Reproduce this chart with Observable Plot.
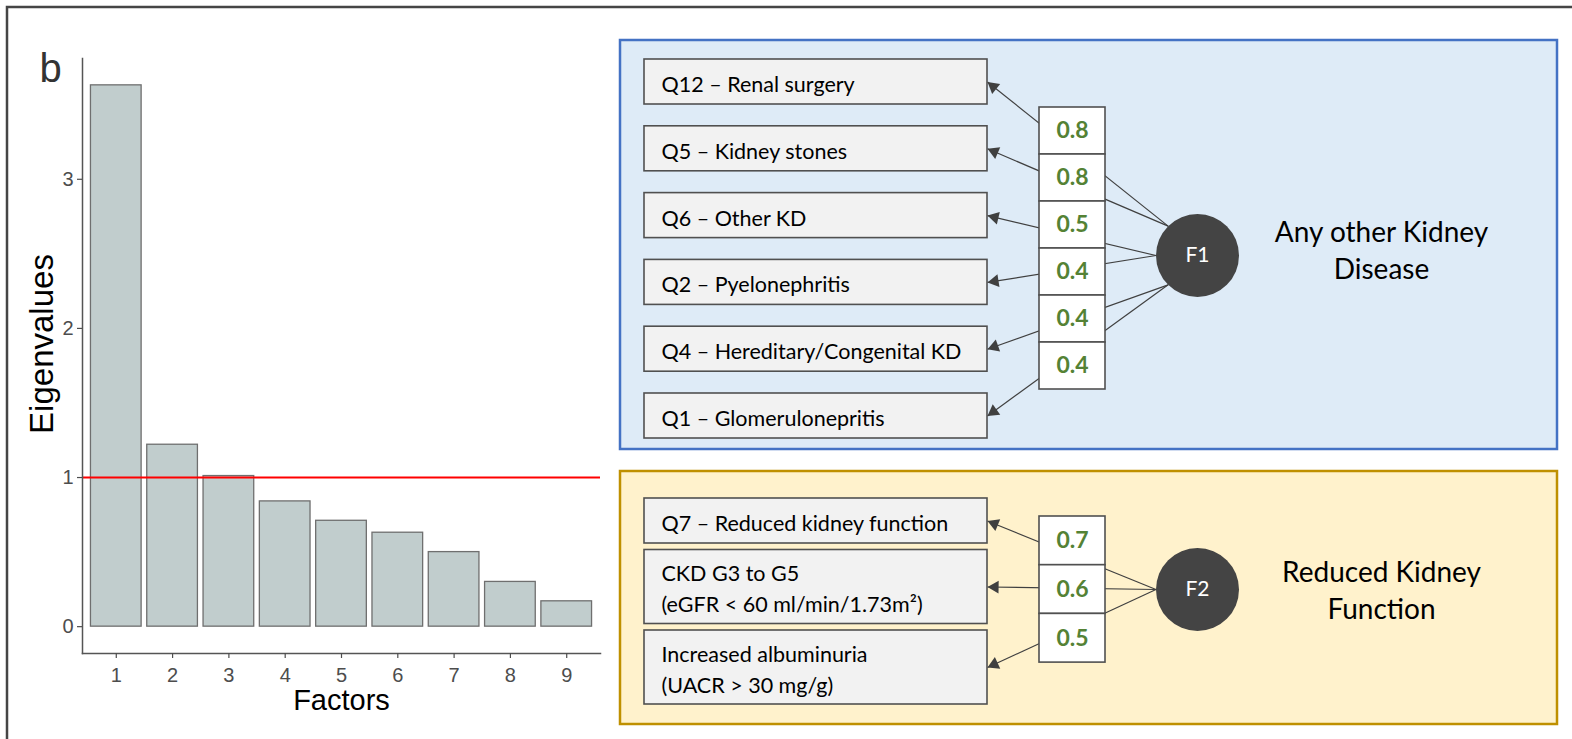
<!DOCTYPE html>
<html><head><meta charset="utf-8">
<script src="https://cdn.jsdelivr.net/npm/d3@7"></script>
<script src="https://cdn.jsdelivr.net/npm/@observablehq/plot@0.6"></script>
<style>
body{margin:0;background:#fff}
#wrap{position:relative;width:1572px;height:739px;overflow:hidden}
#wrap svg{position:absolute;left:0;top:0}
</style></head><body><div id="wrap"></div>
<script>
// ---------- data ----------
const factorNumbers = [1, 2, 3, 4, 5, 6, 7, 8, 9];
const eigenvalues = [3.63, 1.22, 1.01, 0.84, 0.71, 0.63, 0.50, 0.30, 0.17];
const eigenTicks = [0, 1, 2, 3];
const kaiserCutoff = 1;
const panelLabel = "b";

const items1 = ["Q12 – Renal surgery", "Q5 – Kidney stones", "Q6 – Other KD", "Q2 – Pyelonephritis", "Q4 – Hereditary/Congenital KD", "Q1 – Glomerulonepritis"];
const loadings1 = [0.8, 0.8, 0.5, 0.4, 0.4, 0.4];
const items2 = ["Q7 – Reduced kidney function", "CKD G3 to G5\n(eGFR < 60 ml/min/1.73m²)", "Increased albuminuria\n(UACR > 30 mg/g)"];
const loadings2 = [0.7, 0.6, 0.5];
const factorCodes = ["F1", "F2"];
const factorNames = ["Any other Kidney\nDisease", "Reduced Kidney\nFunction"];

// ---------- scree plot ----------
const screeData = factorNumbers.map((f, i) => ({factor: f, eigen: eigenvalues[i]}));
const sans = "'Liberation Sans', Arial, sans-serif";
const scree = Plot.plot({
  width: 620, height: 739,
  marginLeft: 82, marginRight: 20, marginTop: 58, marginBottom: 86,
  style: {background: "transparent", fontFamily: sans, overflow: "visible"},
  x: {type: "band", domain: factorNumbers, paddingInner: 0.1, paddingOuter: 0.15, round: false},
  y: {domain: [-0.18, 3.81]},
  marks: [
    Plot.barY(screeData, {x: "factor", y: "eigen", fill: "#c1cdcd", stroke: "#6f6f6f", strokeWidth: 1.3}),
    Plot.ruleY([kaiserCutoff], {stroke: "#ff0000", strokeWidth: 2}),
    Plot.frame({anchor: "left", stroke: "#555", strokeWidth: 1.5}),
    Plot.frame({anchor: "bottom", stroke: "#555", strokeWidth: 1.5}),
    Plot.axisY(eigenTicks, {tickSize: 5, tickPadding: 4, fontSize: 20, tickFormat: "d", label: null, color: "#4d4d4d", strokeWidth: 1.2}),
    Plot.axisX({tickSize: 5, tickPadding: 9, fontSize: 20, label: null, color: "#4d4d4d", strokeWidth: 1.2}),
    Plot.text(["Eigenvalues"], {frameAnchor: "left", textAnchor: "middle", lineAnchor: "middle", dx: -40, dy: -12, rotate: -90, fontSize: 33, fill: "#000"}),
    Plot.text(["Factors"], {frameAnchor: "bottom", textAnchor: "middle", lineAnchor: "middle", dy: 47, fontSize: 29, fill: "#000"})
  ]
});

// ---------- diagram layout ----------
const panels = [
  {items: items1, loadings: loadings1, code: factorCodes[0], name: factorNames[0],
   box: {x1: 620, x2: 1557, y1: 40, y2: 449}, fill: "#deebf7", stroke: "#4472c4",
   itemTop: 59, gap: 21.8, loadTop: 107, loadH: 47, cy: 255, titleY: 248,
   anchorAngle: i => Math.PI + (1 - Math.floor(i / 2)) * Math.PI / 4},
  {items: items2, loadings: loadings2, code: factorCodes[1], name: factorNames[1],
   box: {x1: 620, x2: 1557, y1: 471, y2: 724}, fill: "#fff2cc", stroke: "#bf9000",
   itemTop: 498, gap: 6.5, loadTop: 516, loadH: 48.7, cy: 589, titleY: 588,
   anchorAngle: i => Math.PI}
];
const G = {itemX1: 644, itemX2: 987, textPad: 17, lineH: 45, lineStep: 29, loadX1: 1039, loadX2: 1105, cx: 1197, r: 41.5, titleX: 1381, head: 3.7};

const bgRows = [], itemRows = [], loadRows = [], linkRows = [], headRows = [], circleRows = [], titleRows = [];
panels.forEach(p => {
  bgRows.push({...p.box, fill: p.fill, stroke: p.stroke});
  let top = p.itemTop;
  p.items.forEach((label, i) => {
    const lines = label.split("\n").length;
    const h = G.lineH + (lines - 1) * G.lineStep;
    const cy = top + h / 2;
    itemRows.push({label, x1: G.itemX1, x2: G.itemX2, y1: top, y2: top + h, cy});
    top += h + p.gap;
    const a = p.anchorAngle(i);
    const ax = G.cx + G.r * Math.cos(a), ay = p.cy + G.r * Math.sin(a);
    const tx = G.itemX2, ty = cy;
    linkRows.push({x1: ax, y1: ay, x2: tx, y2: ty});
    const dx = tx - ax, dy = ty - ay, len = Math.hypot(dx, dy);
    const ux = dx / len, uy = dy / len;
    headRows.push({x: tx - ux * 2 * G.head, y: ty - uy * 2 * G.head, rotate: Math.atan2(ux, -uy) * 180 / Math.PI});
  });
  p.loadings.forEach((v, i) => {
    const y1 = p.loadTop + i * p.loadH;
    loadRows.push({value: v, x1: G.loadX1, x2: G.loadX2, y1, y2: y1 + p.loadH, cx: (G.loadX1 + G.loadX2) / 2, cy: y1 + p.loadH / 2});
  });
  circleRows.push({x: G.cx, y: p.cy, label: p.code});
  titleRows.push({x: G.titleX, y: p.titleY, label: p.name});
});
const headR = Math.sqrt(G.head * G.head * Math.sqrt(3) * 3 / Math.PI);

const diagram = Plot.plot({
  width: 1572, height: 739, margin: 0,
  x: {type: "identity", axis: null}, y: {type: "identity", axis: null},
  style: {background: "white", fontFamily: "Lato, 'Open Sans', sans-serif"},
  marks: [
    Plot.rect([{x1: 7, x2: 1600, y1: 7, y2: 760}], {x1: "x1", x2: "x2", y1: "y1", y2: "y2", fill: "none", stroke: "#454545", strokeWidth: 2.5}),
    Plot.text([{x: 50, y: 69, t: panelLabel}], {x: "x", y: "y", text: "t", fontFamily: sans, fontSize: 40, fill: "#333"}),
    Plot.rect(bgRows, {x1: "x1", x2: "x2", y1: "y1", y2: "y2", fill: d => d.fill, stroke: d => d.stroke, strokeWidth: 2.5}),
    Plot.link(linkRows, {x1: "x1", y1: "y1", x2: "x2", y2: "y2", stroke: "#404040", strokeWidth: 1.2}),
    Plot.dot(headRows, {x: "x", y: "y", rotate: "rotate", symbol: "triangle", r: headR, fill: "#404040", stroke: null}),
    Plot.rect(itemRows, {x1: "x1", x2: "x2", y1: "y1", y2: "y2", fill: "#f2f2f2", stroke: "#505050", strokeWidth: 1.6}),
    Plot.text(itemRows, {x: d => d.x1 + G.textPad, y: "cy", text: "label", textAnchor: "start", fontSize: 21.5, lineHeight: 31 / 21.5, fill: "#000"}),
    Plot.rect(loadRows, {x1: "x1", x2: "x2", y1: "y1", y2: "y2", fill: "white", stroke: "#505050", strokeWidth: 1.6}),
    Plot.text(loadRows, {x: "cx", y: "cy", text: d => d.value.toFixed(1), fontSize: 23, fontWeight: "bold", fill: "#548235"}),
    Plot.dot(circleRows, {x: "x", y: "y", r: G.r, fill: "#444444", stroke: null}),
    Plot.text(circleRows, {x: "x", y: "y", text: "label", fontSize: 21, fill: "white"}),
    Plot.text(titleRows, {x: "x", y: "y", text: "label", fontSize: 28, lineHeight: 37 / 28, fill: "#000"})
  ]
});

const wrap = document.getElementById("wrap");
wrap.appendChild(diagram);
wrap.appendChild(scree);
</script></body></html>
